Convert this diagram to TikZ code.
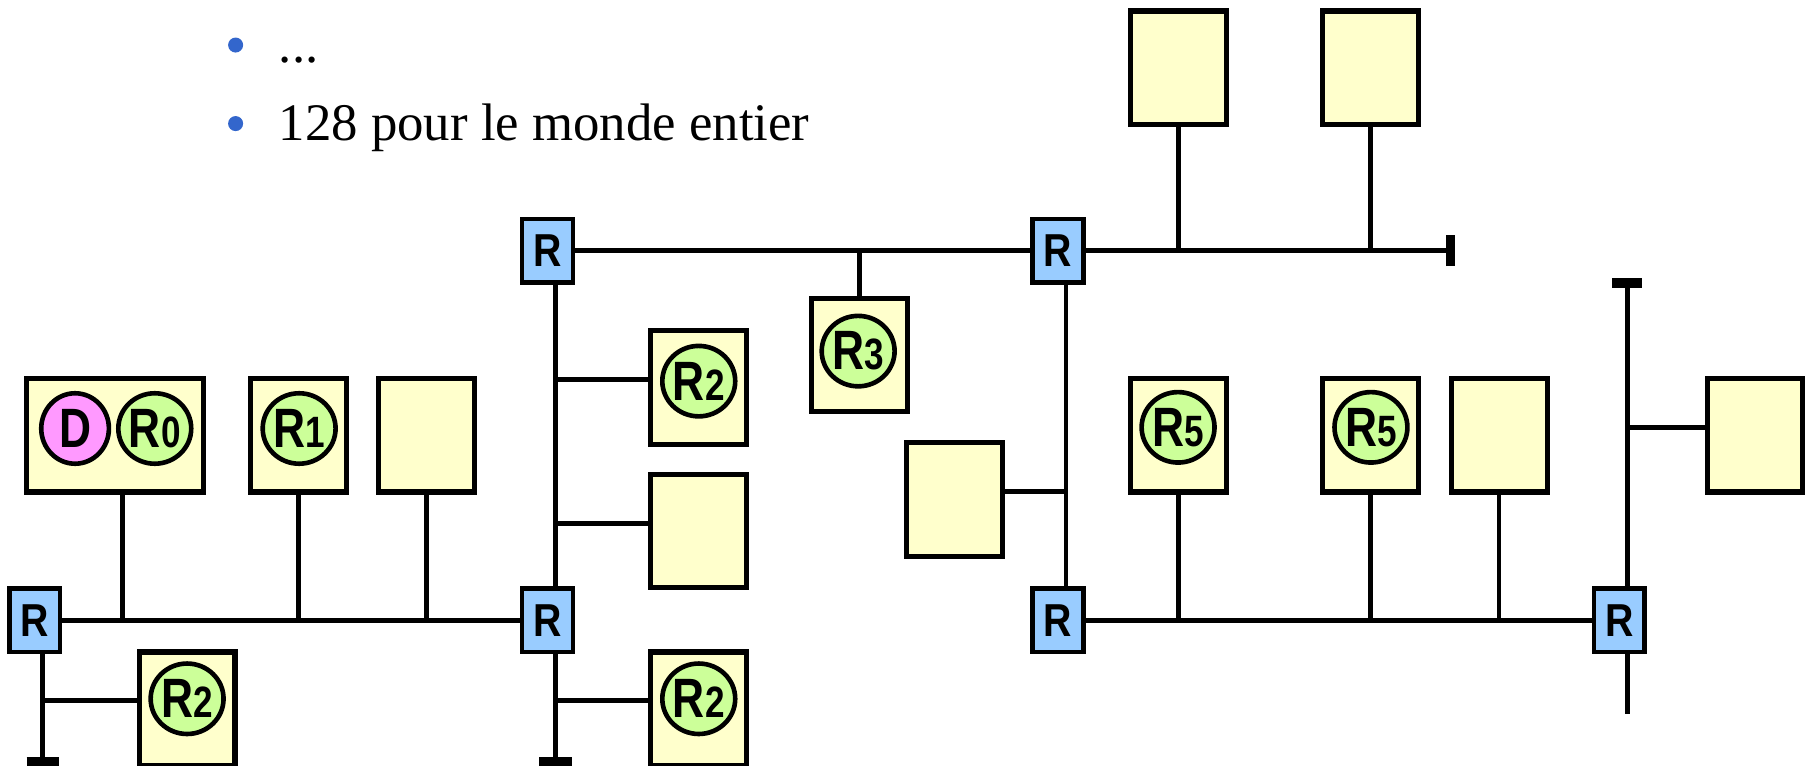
\documentclass[tikz,border=0pt]{standalone}
\usepackage{fontspec}
\setmainfont{Liberation Serif}
\setsansfont{Liberation Sans}
\usetikzlibrary{shapes.geometric}

\definecolor{jaune}{HTML}{FFFFCC}
\definecolor{vert}{HTML}{CCFF99}
\definecolor{rose}{HTML}{FF99FF}
\definecolor{bleu}{HTML}{99CCFF}
\definecolor{puce}{HTML}{3366CC}

% etiquette d'un rendez-vous : lettre + chiffre
\newcommand{\etiq}[2]{\scalebox{0.8}[1]{\sffamily\bfseries\fontsize{24}{24}\selectfont #1\fontsize{19}{19}\selectfont #2}}

\begin{document}
\begin{tikzpicture}[x=0.5pt, y=-0.5pt,
  hote/.style={draw, fill=jaune, line width=2.2pt, minimum width=41.5pt, minimum height=49pt, inner sep=0pt},
  routeur/.style={draw, fill=bleu, line width=2pt, minimum width=22pt, minimum height=27.5pt, inner sep=0pt,
    font=\sffamily\bfseries\fontsize{20}{20}\selectfont},
  proto/.style={ellipse, draw, fill=vert, line width=2pt, minimum width=29.3pt, minimum height=30.5pt, inner sep=0pt},
  cable/.style={line width=2pt},
  bouchon/.style={line width=4pt},
  texte/.style={anchor=base west, inner sep=0pt, font=\fontsize{22.85}{27}\selectfont}]

 \useasboundingbox (0,0) rectangle (1568,663);

 % --- TEXTE ---
 \node[circle, fill=puce, inner sep=0pt, minimum size=6.5pt] (puce1) at (204,39) {};
 \node[texte] (texte1) at (241,54) {...};
 \node[circle, fill=puce, inner sep=0pt, minimum size=6.5pt] (puce2) at (204,107) {};
 \node[texte] (texte2) at (241,122) {128 pour le monde entier};

 % --- ROUTEURS ---
 \node[routeur] (Ra) at (474,217) {\scalebox{0.85}[1]{R}};
 \node[routeur] (Rb) at (916,217) {\scalebox{0.85}[1]{R}};
 \node[routeur] (Rc) at (30,537) {\scalebox{0.85}[1]{R}};
 \node[routeur] (Rd) at (474,537) {\scalebox{0.85}[1]{R}};
 \node[routeur] (Re) at (916,537) {\scalebox{0.85}[1]{R}};
 \node[routeur] (Rf) at (1402,537) {\scalebox{0.85}[1]{R}};

 % --- MACHINES ---
 \node[hote, minimum width=76.5pt] (hDR) at (99.5,377) {};
 \node[hote] (hR1) at (258.5,377) {};
 \node[hote] (hV1) at (369.5,377) {};
 \node[hote] (hR2a) at (162,613.5) {};
 \node[hote] (hR2b) at (605,335.5) {};
 \node[hote] (hV2) at (605,460) {};
 \node[hote] (hR2c) at (605,613.5) {};
 \node[hote] (hR3) at (744,307.5) {};
 \node[hote] (hV3) at (826.5,432.5) {};
 \node[hote] (hH1) at (1020.5,58.5) {};
 \node[hote] (hH2) at (1186.5,58.5) {};
 \node[hote] (hR5a) at (1020.5,377) {};
 \node[hote] (hR5b) at (1186.5,377) {};
 \node[hote] (hV4) at (1298,377) {};
 \node[hote] (hV5) at (1519.5,377) {};

 % --- PROCESSUS (D et R) ---
 \node[proto, fill=rose] (pD) at (65,371) {\etiq{D}{}};
 \node[proto] (pR0) at (134,371) {\etiq{R}{0}};
 \node[proto] (pR1) at (259,371) {\etiq{R}{1}};
 \node[proto] (pR2a) at (162,605) {\etiq{R}{2}};
 \node[proto] (pR2b) at (605,330) {\etiq{R}{2}};
 \node[proto] (pR2c) at (605,605) {\etiq{R}{2}};
 \node[proto] (pR3) at (743,304) {\etiq{R}{3}};
 \node[proto] (pR5a) at (1020,370) {\etiq{R}{5}};
 \node[proto] (pR5b) at (1187,370) {\etiq{R}{5}};

 % --- CABLES VERTICAUX ---
 \coordinate (basC) at (37,659);
 \coordinate (basD) at (481,659);
 \coordinate (ligneB) at (923,400);
 \coordinate (hautF) at (1409,245);
 \coordinate (basF) at (1409,618);
 \coordinate (finB) at (1256,217);

 % reseau du bas, a gauche
 \draw[cable] (Rc.east) -- (Rd.west);
 \draw[cable] ([xshift=3.25pt]hDR.south) -- ([xshift=3.25pt]hDR.south |- Rc);
 \draw[cable] (hR1.south) -- (hR1.south |- Rc);
 \draw[cable] (hV1.south) -- (hV1.south |- Rc);
 \draw[cable] (Rc.south -| basC) -- (basC);
 \draw[cable] ([yshift=3.5pt]hR2a.west) -- ([yshift=3.5pt]hR2a.west -| basC);
 \draw[bouchon] ([xshift=-7pt]basC) -- ([xshift=7pt]basC);

 % reseau vertical du milieu
 \draw[cable] (Ra.south -| basD) -- (Rd.north -| basD);
 \draw[cable] ([yshift=3.5pt]hR2b.west) -- ([yshift=3.5pt]hR2b.west -| basD);
 \draw[cable] ([yshift=3.5pt]hV2.west) -- ([yshift=3.5pt]hV2.west -| basD);
 \draw[cable] (Rd.south -| basD) -- (basD);
 \draw[cable] ([yshift=3.5pt]hR2c.west) -- ([yshift=3.5pt]hR2c.west -| basD);
 \draw[bouchon] ([xshift=-7pt]basD) -- ([xshift=7pt]basD);

 % reseau du haut
 \draw[cable] (Ra.east) -- (Rb.west);
 \draw[cable] (hR3.north) -- (hR3.north |- Ra);
 \draw[cable] (Rb.east) -- (finB);
 \draw[cable] (hH1.south) -- (hH1.south |- Rb);
 \draw[cable] (hH2.south) -- (hH2.south |- Rb);
 \draw[bouchon] ([yshift=-6.75pt]finB) -- ([yshift=6.75pt]finB);

 % reseau vertical de droite (Rb - Re)
 \draw[cable] (Rb.south -| ligneB) -- (Re.north -| ligneB);
 \draw[cable] ([yshift=3.5pt]hV3.east) -- ([yshift=3.5pt]hV3.east -| ligneB);

 % reseau du bas, a droite
 \draw[cable] (Re.east) -- (Rf.west);
 \draw[cable] (hR5a.south) -- (hR5a.south |- Re);
 \draw[cable] (hR5b.south) -- (hR5b.south |- Re);
 \draw[cable] (hV4.south) -- (hV4.south |- Re);

 % dernier reseau vertical
 \draw[cable] (hautF) -- (Rf.north -| hautF);
 \draw[cable] (Rf.south -| basF) -- (basF);
 \draw[cable] ([yshift=3.5pt]hV5.west) -- ([yshift=3.5pt]hV5.west -| hautF);
 \draw[bouchon] ([xshift=-6.5pt]hautF) -- ([xshift=6.5pt]hautF);

\end{tikzpicture}
\end{document}
